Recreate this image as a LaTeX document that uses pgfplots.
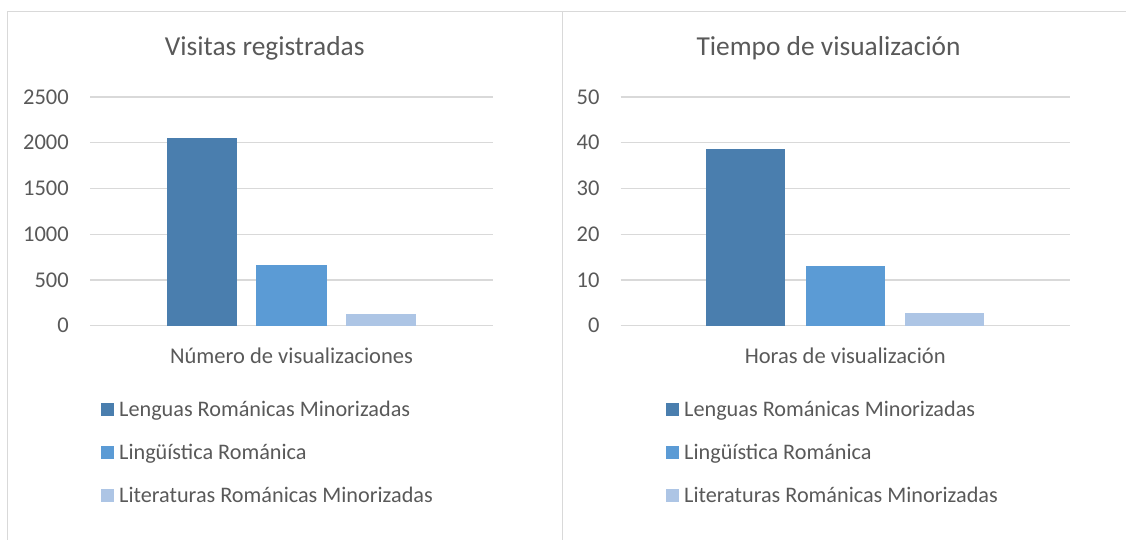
\documentclass[border=0pt]{standalone}
\usepackage{fontspec}
\setmainfont{Carlito}
\usepackage{pgfplots}
\pgfplotsset{compat=1.18}
\definecolor{c1}{HTML}{4A7EAE}
\definecolor{c2}{HTML}{5B9BD5}
\definecolor{c3}{HTML}{ADC5E5}
\definecolor{txt}{HTML}{595959}
\definecolor{gridc}{HTML}{D9D9D9}
\pgfplotsset{
  mystyle/.style={
    scale only axis,
    height=228.7bp,
    ymin=0,
    xmin=-1, xmax=1,
    axis line style={draw=none},
    major tick length=0pt,
    ymajorgrids,
    grid style={gridc, line width=1.3bp},
    xtick={0},
    tick label style={font=\fontsize{22.6}{26}\selectfont, text=txt},
    /pgf/number format/assume math mode=true,
    /pgf/number format/1000 sep={},
    yticklabel style={anchor=east, inner sep=0pt, xshift=-21bp},
    xticklabel style={anchor=north, inner sep=0pt, yshift=-22bp},
    title style={font=\fontsize{27.5}{33}\selectfont, text=txt, anchor=base, inner sep=0pt},
    legend style={draw=none, fill=none, font=\fontsize{22.3}{26}\selectfont, text=txt,
      anchor=north west, row sep=26bp, column sep=5bp, inner sep=0pt,
      nodes={inner sep=0pt, anchor=west}},
    legend cell align=left,
    every axis plot/.append style={draw=none},
  },
  mylegend/.style={
    legend image code/.code={\fill[##1] (0bp,-6.5bp) rectangle (13bp,6.5bp);},
  }
}
\begin{document}
\begin{tikzpicture}
\clip (0,0) rectangle (1126bp,-540bp);
\draw[gridc, line width=1bp] (7bp,-600bp) -- (7bp,-11bp) -- (562bp,-11bp) -- (562bp,-600bp);
\draw[gridc, line width=1bp] (562bp,-11bp) -- (1130bp,-11bp);
\begin{axis}[mystyle,
  at={(90bp,-325.7bp)}, anchor=south west,
  width=403bp,
  ymax=2500, ytick={0,500,1000,1500,2000,2500},
  ybar=19bp, bar width=70.5bp, mylegend,
  xticklabels={Número de visualizaciones},
  title={Visitas registradas},
  title style={at={(axis description cs:0.4335,1.155)}},
  legend style={at={(axis description cs:0.0273,-0.3275)}},
]
\addplot[fill=c1] coordinates {(0,2050)};
\addplot[fill=c2] coordinates {(0,660)};
\addplot[fill=c3] coordinates {(0,130)};
\legend{Lenguas Románicas Minorizadas, Lingüística Románica, Literaturas Románicas Minorizadas}
\end{axis}
\begin{axis}[mystyle,
  at={(620.7bp,-325.7bp)}, anchor=south west,
  width=449bp,
  ymax=50, ytick={0,10,20,30,40,50},
  ybar=20.7bp, bar width=79bp, mylegend,
  xticklabels={Horas de visualización},
  title={Tiempo de visualización},
  title style={at={(axis description cs:0.463,1.155)}},
  legend style={at={(axis description cs:0.1009,-0.3275)}},
]
\addplot[fill=c1] coordinates {(0,38.6)};
\addplot[fill=c2] coordinates {(0,13.0)};
\addplot[fill=c3] coordinates {(0,2.85)};
\legend{Lenguas Románicas Minorizadas, Lingüística Románica, Literaturas Románicas Minorizadas}
\end{axis}
\end{tikzpicture}
\end{document}
